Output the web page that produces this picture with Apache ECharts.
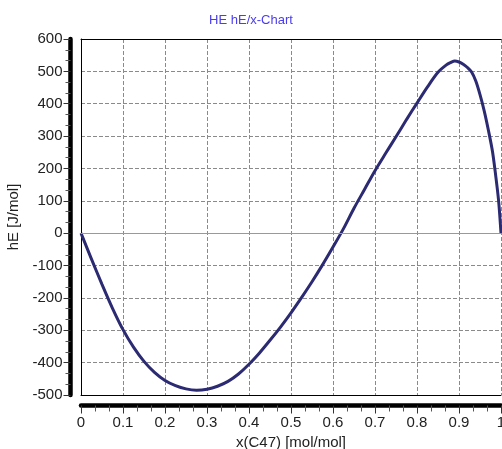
<!DOCTYPE html>
<html>
<head>
<meta charset="utf-8">
<script src="https://cdn.jsdelivr.net/npm/echarts@6/dist/echarts.min.js"></script>
<style>html,body{margin:0;padding:0;background:#fff;}#c{width:502px;height:449px;}</style>
</head>
<body>
<div id="c"></div>
<script>
var xValues = [0, 0.025, 0.05, 0.075, 0.1, 0.125, 0.15, 0.175, 0.2, 0.225, 0.25, 0.275, 0.3, 0.325, 0.35, 0.375, 0.4, 0.425, 0.45, 0.475, 0.5, 0.525, 0.55, 0.575, 0.6, 0.625, 0.65, 0.675, 0.7, 0.725, 0.75, 0.775, 0.8, 0.825, 0.85, 0.87, 0.88, 0.89, 0.9, 0.91, 0.92, 0.93, 0.94, 0.95, 0.96, 0.97, 0.98, 0.99, 0.995, 1];
var hEValues = [0, -80, -158, -232, -298, -352, -396, -430, -455, -471, -481, -485, -482, -473, -458, -435, -405, -370, -331, -290, -246, -199, -150, -98, -43, 14, 77, 135, 193, 246, 298, 351, 402, 452, 497, 520, 527, 532, 529, 522, 512, 498, 470, 428, 378, 318, 250, 150, 90, 0];
var titleText = 'HE hE/x-Chart';
var xName = 'x(C47) [mol/mol]';
var yName = 'hE [J/mol]';

var data = xValues.map(function (x, i) { return [x, hEValues[i]]; });
var font = 'Liberation Sans, Arial, sans-serif';
var chart = echarts.init(document.getElementById('c'));
chart.setOption({
  animation: false,
  title: {
    text: titleText, left: 'center', top: 9,
    textStyle: { color: '#4a3cf0', fontSize: 13, fontWeight: 'normal', fontFamily: font }
  },
  grid: { left: 81, right: 1, top: 39, bottom: 54, show: false, containLabel: false, outerBoundsMode: 'none' },
  xAxis: [{
    type: 'value', min: 0, max: 1, interval: 0.1, offset: 10.5,
    name: xName, nameLocation: 'middle', nameGap: 29,
    nameTextStyle: { color: '#222', fontSize: 15, fontFamily: font },
    axisLine: { show: true, onZero: false, lineStyle: { color: '#000', width: 4.5 } },
    axisTick: { show: true, length: 8, lineStyle: { color: '#333', width: 1 } },
    minorTick: { show: true, splitNumber: 3, length: 6, lineStyle: { color: '#555', width: 1 } },
    axisLabel: { color: '#222', fontSize: 15, fontFamily: font, margin: 10 },
    splitLine: { show: true, lineStyle: { color: '#8a8a8a', type: [4, 2], width: 1 } }
  }, {
    type: 'value', min: 0, max: 1, position: 'top',
    axisLine: { show: true, onZero: false, lineStyle: { color: '#000', width: 1 } },
    axisTick: { show: false }, axisLabel: { show: false }, splitLine: { show: false }
  }, {
    type: 'value', min: 0, max: 1, position: 'bottom',
    axisLine: { show: true, onZero: false, lineStyle: { color: '#000', width: 1 } },
    axisTick: { show: false }, axisLabel: { show: false }, splitLine: { show: false }
  }],
  yAxis: [{
    type: 'value', min: -500, max: 600, interval: 100, offset: 10.5,
    name: yName, nameLocation: 'middle', nameGap: 47, nameRotate: 90,
    nameTextStyle: { color: '#222', fontSize: 15, fontFamily: font },
    axisLine: { show: true, onZero: false, lineStyle: { color: '#000', width: 4.5 } },
    axisTick: { show: true, length: 7, lineStyle: { color: '#333', width: 1 } },
    minorTick: { show: true, splitNumber: 3, length: 5, lineStyle: { color: '#555', width: 1 } },
    axisLabel: { color: '#222', fontSize: 15, fontFamily: font, margin: 8 },
    splitLine: { show: true, lineStyle: { color: '#8a8a8a', type: [4, 2], width: 1 } }
  }, {
    type: 'value', min: -500, max: 600, position: 'left',
    axisLine: { show: true, onZero: false, lineStyle: { color: '#000', width: 1 } },
    axisTick: { show: false }, axisLabel: { show: false }, splitLine: { show: false }
  }],
  series: [{
    type: 'line', data: data, smooth: 0.3, showSymbol: false, clip: true,
    lineStyle: { color: '#2b2a72', width: 3 },
    markLine: {
      silent: true, symbol: 'none', label: { show: false },
      lineStyle: { color: '#999', type: 'solid', width: 1 },
      data: [{ yAxis: 0 }]
    }
  }]
});
</script>
</body>
</html>
